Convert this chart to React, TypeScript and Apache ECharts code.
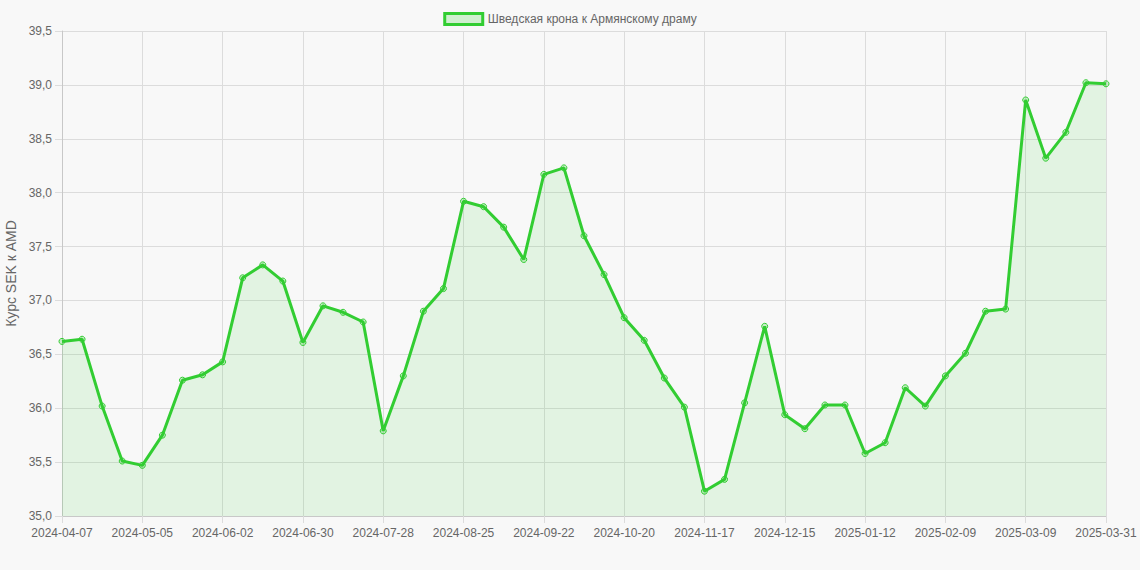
import React, { useEffect, useRef } from "react";
import * as echarts from "echarts";

const dates = [
  "2024-04-07", "2024-04-14", "2024-04-21", "2024-04-28", "2024-05-05", "2024-05-12", "2024-05-19", "2024-05-26",
  "2024-06-02", "2024-06-09", "2024-06-16", "2024-06-23", "2024-06-30", "2024-07-07", "2024-07-14", "2024-07-21",
  "2024-07-28", "2024-08-04", "2024-08-11", "2024-08-18", "2024-08-25", "2024-09-01", "2024-09-08", "2024-09-15",
  "2024-09-22", "2024-09-29", "2024-10-06", "2024-10-13", "2024-10-20", "2024-10-27", "2024-11-03", "2024-11-10",
  "2024-11-17", "2024-11-24", "2024-12-01", "2024-12-08", "2024-12-15", "2024-12-22", "2024-12-29", "2025-01-05",
  "2025-01-12", "2025-01-19", "2025-01-26", "2025-02-02", "2025-02-09", "2025-02-16", "2025-02-23", "2025-03-02",
  "2025-03-09", "2025-03-16", "2025-03-23", "2025-03-30", "2025-03-31",
];

const rates = [
  36.62, 36.64, 36.02, 35.51, 35.47, 35.75, 36.26, 36.31,
  36.43, 37.21, 37.33, 37.18, 36.61, 36.95, 36.89, 36.80,
  35.79, 36.30, 36.90, 37.11, 37.92, 37.87, 37.68, 37.38,
  38.17, 38.23, 37.60, 37.24, 36.84, 36.63, 36.28, 36.01,
  35.23, 35.34, 36.05, 36.76, 35.94, 35.81, 36.03, 36.03,
  35.58, 35.68, 36.19, 36.02, 36.30, 36.51, 36.90, 36.92,
  38.86, 38.32, 38.56, 39.02, 39.01,
];

const seriesName = "Шведская крона к Армянскому драму";
const yAxisName = "Курс SEK к AMD";

const LINE = "#32cd32";
const FILL = "rgba(50,205,50,0.15)";
const FONT = 'Arial, "Liberation Sans", Helvetica, sans-serif';

export default function App() {
  const ref = useRef<HTMLDivElement>(null);
  useEffect(() => {
    document.body.style.margin = "0";
    document.body.style.background = "#f8f8f8";
    const chart = echarts.init(ref.current!, null, { renderer: "svg" });
    const showIdx = (i: number) => i % 4 === 0 || i === dates.length - 1;
    chart.setOption({
      animation: false,
      backgroundColor: "#f8f8f8",
      textStyle: { fontFamily: FONT },
      legend: {
        top: 7,
        left: "center",
        icon: "rect",
        itemWidth: 38,
        itemHeight: 11,
        itemGap: 10,
        textStyle: { color: "#666", fontSize: 12, fontFamily: FONT },
        data: [
          {
            name: seriesName,
            itemStyle: { color: "rgba(50,205,50,0.2)", borderColor: LINE, borderWidth: 3 },
          },
        ],
      },
      grid: { left: 62, right: 34, top: 31, bottom: 54, containLabel: false, outerBoundsMode: "none" },
      xAxis: {
        type: "category",
        data: dates,
        boundaryGap: false,
        axisLine: { lineStyle: { color: "#c8c8c8" } },
        axisTick: { show: true, interval: (i: number) => showIdx(i), length: 7, lineStyle: { color: "#dcdcdc" } },
        axisLabel: {
          interval: (i: number) => showIdx(i),
          color: "#666",
          fontSize: 12,
          margin: 11,
          fontFamily: FONT,
        },
        splitLine: { show: true, interval: (i: number) => showIdx(i), lineStyle: { color: "#dcdcdc" } },
      },
      yAxis: {
        type: "value",
        min: 35,
        max: 39.5,
        interval: 0.5,
        name: yAxisName,
        nameLocation: "middle",
        nameGap: 43,
        nameTextStyle: { color: "#666", fontSize: 14, fontFamily: FONT },
        axisLine: { show: true, lineStyle: { color: "#c8c8c8" } },
        axisTick: { show: true, length: 7, lineStyle: { color: "#dcdcdc" } },
        axisLabel: {
          color: "#666",
          fontSize: 12,
          margin: 10,
          fontFamily: FONT,
          formatter: (v: number) => v.toFixed(1).replace(".", ","),
        },
        splitLine: { show: true, lineStyle: { color: "#dcdcdc" } },
      },
      series: [
        {
          name: seriesName,
          type: "line",
          data: rates,
          symbol: "circle",
          symbolSize: 6,
          showAllSymbol: true,
          lineStyle: { color: LINE, width: 3 },
          itemStyle: { color: "rgba(50,205,50,0.25)", borderColor: LINE, borderWidth: 1 },
          areaStyle: { color: FILL, origin: "start" },
        },
      ],
    });
    return () => chart.dispose();
  }, []);
  return (
    <div
      ref={ref}
      style={{ position: "fixed", left: 0, top: 0, width: 1140, height: 570 }}
    />
  );
}
